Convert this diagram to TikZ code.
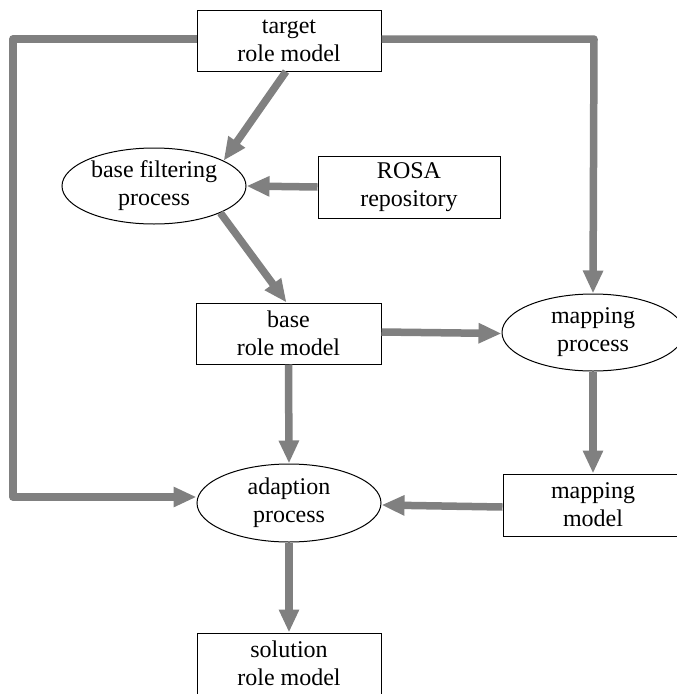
\documentclass[tikz,border=0pt]{standalone}
\usepackage{fontspec}
\setmainfont{Liberation Serif}
\usetikzlibrary{shapes.geometric,arrows.meta}
\definecolor{arrgray}{RGB}{128,128,128}
\tikzset{
  boxnode/.style={draw=black, line width=1pt, rectangle, minimum width=184pt, minimum height=61pt, inner sep=0pt, align=center, font=\fontsize{24}{28}\selectfont},
  ellnode/.style={draw=black, line width=1pt, ellipse, minimum width=184pt, minimum height=76pt, inner sep=0pt, align=center, font=\fontsize{24}{28}\selectfont},
  arr/.style={draw=arrgray, line width=7.5pt, line join=round, -{Triangle[length=23pt,width=19pt]}}
}
\begin{document}
\begin{tikzpicture}[x=1pt,y=-1pt]
\useasboundingbox (0,0) rectangle (677,694);
\fill[white] (0,0) rectangle (677,694);
\node[boxnode] (target) at (289,40.5) {target\\role model};
\node[ellnode] (filt) at (154,186) {base filtering\\process};
\node[boxnode, minimum width=182pt, minimum height=62pt] (rosa) at (409,187) {ROSA\\repository};
\node[boxnode, minimum width=185pt] (base) at (288.5,333.5) {base\\role model};
\node[ellnode, minimum width=182pt, minimum height=77pt] (mapproc) at (593,332.5) {mapping\\process};
\node[boxnode, minimum width=180pt, minimum height=62pt] (mapmodel) at (593,505) {mapping\\model};
\node[ellnode, minimum height=78pt] (adapt) at (289,503) {adaption\\process};
\node[boxnode] (solution) at (289,663.5) {solution\\role model};
\coordinate (lc1) at (13,39);
\coordinate (lc2) at (13,497);
\coordinate (rc1) at (594,39);
\draw[arr] ([xshift=-3pt]target.south) -- (filt.20);
\draw[arr] (rosa.west) -- (filt.east);
\draw[arr] (filt.-22) -- ([xshift=-2pt]base.north);
\draw[arr] ([yshift=1.5pt]base.east) -- (base.east -| mapproc.west);
\draw[arr] (target.west |- lc1) -- (lc1) -- (lc2) -- (adapt.west |- lc2);
\draw[arr] (target.east |- rc1) -- (rc1) -- (mapproc.north);
\draw[arr] (base.south) -- (adapt.north);
\draw[arr] (mapproc.south) -- (mapmodel.north);
\draw[arr] ([yshift=-2pt]mapmodel.west) -- ([yshift=-2pt]adapt.east);
\draw[arr] (adapt.south) -- (solution.north);
\end{tikzpicture}
\end{document}
